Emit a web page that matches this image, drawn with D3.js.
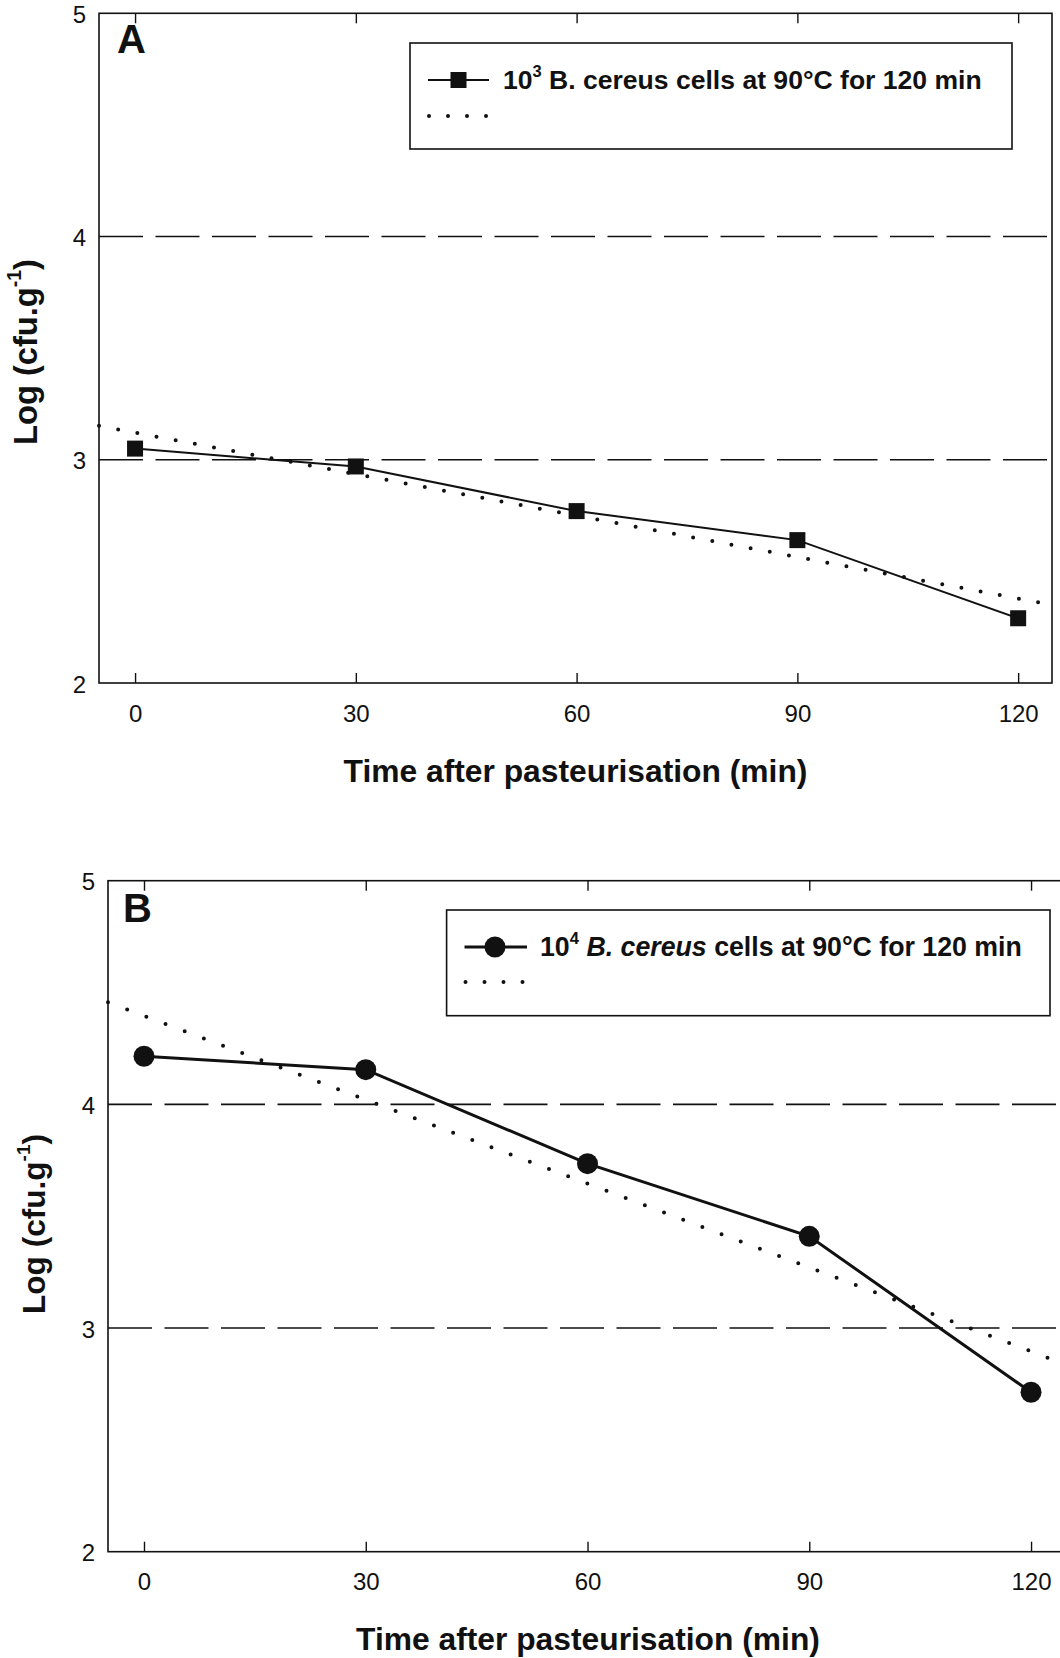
<!DOCTYPE html>
<html>
<head>
<meta charset="utf-8">
<script src="https://cdn.jsdelivr.net/npm/d3@7"></script>
<style>
  html, body { margin: 0; padding: 0; background: #fff; }
  svg { display: block; }
  text { font-family: "Liberation Sans", Arial, Helvetica, sans-serif; fill: #111; }
</style>
</head>
<body>
<svg id="chart" width="1060" height="1658"></svg>
<script>
// ---------- data ----------
const xTickValues = [0, 30, 60, 90, 120];
const yTickValues = [2, 3, 4, 5];
const refLevels = [3, 4];

const timeA = [0, 30, 60, 90, 120];
const logA  = [3.05, 2.97, 2.77, 2.64, 2.29];
const trendTimeA = [-4.9, 124.6];
const trendLogA  = [3.152, 2.35];

const timeB = [0, 30, 60, 90, 120];
const logB  = [4.215, 4.155, 3.735, 3.41, 2.713];
const trendTimeB = [-4.87, 125];
const trendLogB  = [4.457, 2.833];

const panelLetters = ["A", "B"];
const xTitle = "Time after pasteurisation (min)";

// ---------- layout ----------
const svg = d3.select("#chart");
const ink = "#111";
const tickFont = 24;

const panels = [
  { letter: panelLetters[0], time: timeA, log: logA, tt: trendTimeA, tl: trendLogA,
    xDomain: [-4.9, 124.6], left: 99, right: 1052, top: 13.3, bottom: 683,
    marker: "square", lineW: 2, trendGap: 19.5,
    legend: { x0: 410, y0: 43, x1: 1012, y1: 149, lineX0: 428, lineX1: 489, lineY: 80, mx: 458.5,
              dotY: 116, textX: 503, textY: 89, textW: 479, italic: false, sup: "3" },
    letterPos: [117, 53], yTitle: [37, 352], yTitleW: 186,
    xLabelY: 722, xTitleY: 782 },
  { letter: panelLetters[1], time: timeB, log: logB, tt: trendTimeB, tl: trendLogB,
    xDomain: [-4.87, 125], left: 108, right: 1068, top: 880.7, bottom: 1551.7,
    marker: "circle", lineW: 3, trendGap: 20.5,
    legend: { x0: 446.6, y0: 910, x1: 1050, y1: 1015.7, lineX0: 464.5, lineX1: 527, lineY: 947, mx: 495,
              dotY: 982, textX: 540, textY: 956, textW: 482, italic: true, sup: "4" },
    letterPos: [123, 922], yTitle: [45, 1224], yTitleW: 180,
    xLabelY: 1590, xTitleY: 1650 }
];

function fitWidth(sel, target) {
  const node = sel.node();
  const fs = parseFloat(sel.attr("font-size"));
  const w = node.getComputedTextLength();
  if (w > 0) sel.attr("font-size", (fs * target / w).toFixed(2));
}

panels.forEach(p => {
  const x = d3.scaleLinear().domain(p.xDomain).range([p.left, p.right]);
  const y = d3.scaleLinear().domain([2, 5]).range([p.bottom, p.top]);
  const g = svg.append("g");

  // reference dashed lines
  g.selectAll(".ref").data(refLevels).join("line")
    .attr("x1", p.left).attr("x2", p.right)
    .attr("y1", d => y(d)).attr("y2", d => y(d))
    .attr("stroke", ink).attr("stroke-width", 1.6)
    .attr("stroke-dasharray", "44,12.5");

  // frame
  g.append("rect")
    .attr("x", p.left).attr("y", p.top)
    .attr("width", p.right - p.left).attr("height", p.bottom - p.top)
    .attr("fill", "none").attr("stroke", ink).attr("stroke-width", 1.6);

  // bottom axis (inward ticks)
  const xAxis = d3.axisBottom(x).tickValues(xTickValues).tickSize(-10).tickPadding(0).tickFormat(d3.format("d"));
  const ax = g.append("g").attr("transform", `translate(0,${p.bottom})`).call(xAxis);
  ax.attr("font-size", tickFont);
  ax.select(".domain").remove();
  ax.selectAll(".tick line").attr("stroke", ink).attr("stroke-width", 1.4);
  ax.selectAll(".tick text").attr("dy", null)
    .style("font-size", tickFont + "px").attr("fill", ink)
    .attr("y", p.xLabelY - p.bottom);

  // top axis ticks
  const xTop = d3.axisTop(x).tickValues(xTickValues).tickSize(-10).tickFormat("");
  const at = g.append("g").attr("transform", `translate(0,${p.top})`).call(xTop);
  at.select(".domain").remove();
  at.selectAll(".tick line").attr("stroke", ink).attr("stroke-width", 1.4);

  // left axis labels
  const yAxis = d3.axisLeft(y).tickValues(yTickValues).tickSize(0).tickPadding(13).tickFormat(d3.format("d"));
  const ay = g.append("g").attr("transform", `translate(${p.left},0)`).call(yAxis);
  ay.attr("font-size", tickFont);
  ay.select(".domain").remove();
  ay.selectAll(".tick text").style("font-size", tickFont + "px").attr("fill", ink).attr("dy", "0.38em");

  // trend (dotted)
  const lineGen = d3.line().x(d => x(d[0])).y(d => y(d[1]));
  const trendPts = p.tt.map((t, i) => [t, p.tl[i]]);
  g.append("path").attr("d", lineGen(trendPts))
    .attr("fill", "none").attr("stroke", ink).attr("stroke-width", 4)
    .attr("stroke-linecap", "round").attr("stroke-dasharray", `0,${p.trendGap}`);

  // data line
  const pts = p.time.map((t, i) => [t, p.log[i]]);
  g.append("path").attr("d", lineGen(pts))
    .attr("fill", "none").attr("stroke", ink).attr("stroke-width", p.lineW);

  // markers
  if (p.marker === "square") {
    g.selectAll(".m").data(pts).join("rect")
      .attr("x", d => x(d[0]) - 8).attr("y", d => y(d[1]) - 8)
      .attr("width", 16).attr("height", 16).attr("fill", ink);
  } else {
    g.selectAll(".m").data(pts).join("circle")
      .attr("cx", d => x(d[0])).attr("cy", d => y(d[1])).attr("r", 10.5).attr("fill", ink);
  }

  // panel letter
  g.append("text").attr("x", p.letterPos[0]).attr("y", p.letterPos[1])
    .attr("font-size", 40).attr("font-weight", "bold").text(p.letter);

  // legend
  const L = p.legend;
  g.append("rect").attr("x", L.x0).attr("y", L.y0)
    .attr("width", L.x1 - L.x0).attr("height", L.y1 - L.y0)
    .attr("fill", "#fff").attr("stroke", ink).attr("stroke-width", 1.6);
  g.append("line").attr("x1", L.lineX0).attr("x2", L.lineX1).attr("y1", L.lineY).attr("y2", L.lineY)
    .attr("stroke", ink).attr("stroke-width", p.lineW);
  if (p.marker === "square") {
    g.append("rect").attr("x", L.mx - 8).attr("y", L.lineY - 8).attr("width", 16).attr("height", 16).attr("fill", ink);
  } else {
    g.append("circle").attr("cx", L.mx).attr("cy", L.lineY).attr("r", 10.5).attr("fill", ink);
  }
  g.append("path").attr("d", `M${L.lineX0 + 1},${L.dotY}H${L.lineX0 + 1 + 3 * 19 + 2}`)
    .attr("fill", "none").attr("stroke", ink).attr("stroke-width", 4)
    .attr("stroke-linecap", "round").attr("stroke-dasharray", "0,19");

  const lt = g.append("text").attr("x", L.textX).attr("y", L.textY)
    .attr("font-size", 24).attr("font-weight", "bold");
  lt.append("tspan").text("10");
  lt.append("tspan").attr("font-size", "0.62em").attr("dy", "-0.75em").text(L.sup);
  if (L.italic) {
    lt.append("tspan").attr("font-size", "1em").attr("dy", "0.465em").text(" ");
    lt.append("tspan").attr("font-style", "italic").text("B. cereus");
    lt.append("tspan").text(" cells at 90°C for 120 min");
  } else {
    lt.append("tspan").attr("font-size", "1em").attr("dy", "0.465em").text(" B. cereus cells at 90°C for 120 min");
  }
  fitWidth(lt, L.textW);

  // y title
  const yt = g.append("text").attr("transform", `translate(${p.yTitle[0]},${p.yTitle[1]}) rotate(-90)`)
    .attr("text-anchor", "middle").attr("font-size", 25).attr("font-weight", "bold");
  yt.append("tspan").text("Log (cfu.g");
  yt.append("tspan").attr("font-size", "0.6em").attr("dy", "-0.8em").text("-1");
  yt.append("tspan").attr("font-size", "1em").attr("dy", "0.48em").text(")");
  fitWidth(yt, p.yTitleW);

  // x title
  const xt = g.append("text").attr("x", (p.left + p.right) / 2).attr("y", p.xTitleY)
    .attr("text-anchor", "middle").attr("font-size", 27).attr("font-weight", "bold").text(xTitle);
  fitWidth(xt, 464);
});
</script>
</body>
</html>
